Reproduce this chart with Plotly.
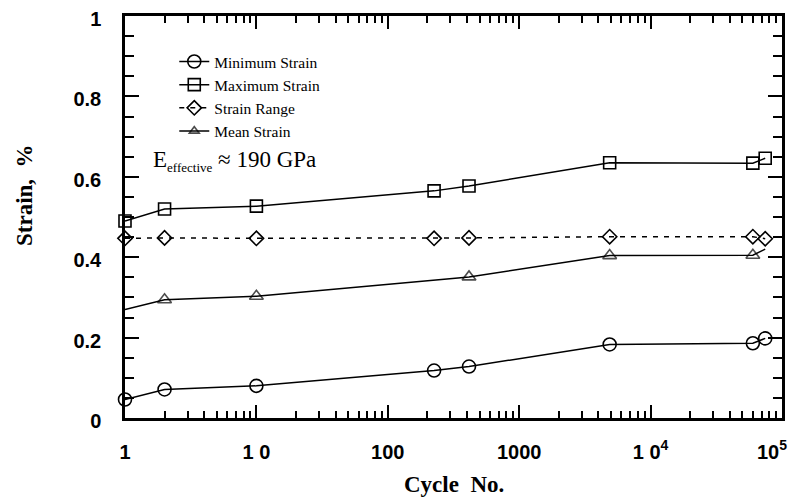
import plotly.graph_objects as go

cycles = [1, 2, 10, 225, 415, 4880, 60000, 74500]
min_strain = [0.046, 0.071, 0.080, 0.118, 0.128, 0.183, 0.186, 0.198]
max_strain = [0.490, 0.520, 0.527, 0.565, 0.577, 0.635, 0.634, 0.646]
range_strain = [0.447, 0.448, 0.447, 0.447, 0.448, 0.451, 0.451, 0.446]
mean_cycles = [1, 2, 10, 415, 4880, 60000, 74500]
mean_strain = [0.270, 0.294, 0.303, 0.351, 0.404, 0.405, 0.420]

x_tickvals = [1, 10, 100, 1000, 10000, 100000]
x_ticktext = ["1", "1 0", "100", "1000", "1 0<sup>4</sup>", "10<sup>5</sup>\u2003"]
x_minor = [m * d for d in [1, 10, 100, 1000, 10000] for m in range(2, 10)]
y_tickvals = [0, 0.2, 0.4, 0.6, 0.8, 1.0]
y_ticktext = ["0", "0.2", "0.4", "0.6", "0.8", "1"]
y_minor = [i * 0.05 for i in range(21)]

serif = "Liberation Serif, Times New Roman, serif"
sans = "Liberation Sans, Arial, sans-serif"

fig = go.Figure()
line = dict(color="black", width=1.5)
fig.add_trace(go.Scatter(x=cycles, y=min_strain, name="Minimum Strain", mode="lines+markers",
                         line=line, cliponaxis=False,
                         marker=dict(symbol="circle-open", size=13, color="black", line=dict(width=1.6))))
fig.add_trace(go.Scatter(x=cycles, y=max_strain, name="Maximum Strain", mode="lines+markers",
                         line=line, cliponaxis=False,
                         marker=dict(symbol="square-open", size=12, color="black", line=dict(width=1.6))))
fig.add_trace(go.Scatter(x=cycles, y=range_strain, name="Strain Range", mode="lines+markers",
                         line=dict(color="black", width=1.5, dash="5px,6px"), cliponaxis=False,
                         marker=dict(symbol="diamond-open", size=11, color="black", line=dict(width=1.6))))
fig.add_trace(go.Scatter(x=mean_cycles, y=mean_strain, name="Mean Strain", mode="lines+markers",
                         line=line, cliponaxis=False,
                         marker=dict(symbol="triangle-up-open", size=[0, 12, 12, 12, 12, 12, 0],
                                     color="black", line=dict(width=1.6))))
# invisible traces that bind the overlay tick axes
for ax in ["2", "3"]:
    fig.add_trace(go.Scatter(x=cycles, y=min_strain, mode="none", showlegend=False,
                             hoverinfo="skip", xaxis="x" + ax, yaxis="y" + ax))

tickfont = dict(family=sans, size=20, color="black", weight="bold")
common_x = dict(type="log", range=[0, 5], showgrid=False, zeroline=False, automargin=False)
common_y = dict(range=[0, 1], showgrid=False, zeroline=False, automargin=False)

fig.update_layout(
    template="none",
    width=791, height=489,
    margin=dict(l=117, r=17, t=8, b=79, autoexpand=False),
    paper_bgcolor="white", plot_bgcolor="white",
    showlegend=True,
    legend=dict(x=0.075, y=0.928, xanchor="left", yanchor="top",
                font=dict(family=serif, size=15.5, color="black"),
                bgcolor="rgba(0,0,0,0)", tracegroupgap=0),
    xaxis=dict(**common_x, tickvals=x_tickvals, ticktext=x_ticktext,
               ticks="outside", ticklen=14, tickwidth=1, tickcolor="rgba(0,0,0,0)",
               showline=True, linewidth=2.5, linecolor="black", mirror=True,
               tickfont=tickfont, ticklabeloverflow="allow"),
    xaxis2=dict(**common_x, overlaying="x", anchor="y2", tickvals=x_tickvals,
                ticks="inside", ticklen=13, tickwidth=2, tickcolor="black",
                mirror="ticks", showline=True, linecolor="black", showticklabels=False),
    xaxis3=dict(**common_x, overlaying="x", anchor="y3", tickvals=x_minor,
                ticks="inside", ticklen=7, tickwidth=1.5, tickcolor="black",
                mirror="ticks", showline=True, linecolor="black", showticklabels=False),
    yaxis=dict(**common_y, tickvals=y_tickvals, ticktext=y_ticktext,
               ticks="outside", ticklen=17, tickwidth=1, tickcolor="rgba(0,0,0,0)",
               showline=True, linewidth=2.5, linecolor="black", mirror=True,
               tickfont=tickfont, ticklabeloverflow="allow", ticklabelshift=3),
    yaxis2=dict(**common_y, overlaying="y", anchor="x2", tickvals=y_tickvals,
                ticks="inside", ticklen=14, tickwidth=2, tickcolor="black",
                mirror="ticks", showline=True, linecolor="black", showticklabels=False),
    yaxis3=dict(**common_y, overlaying="y", anchor="x3", tickvals=y_minor,
                ticks="inside", ticklen=9, tickwidth=2, tickcolor="black",
                mirror="ticks", showline=True, linecolor="black", showticklabels=False),
    annotations=[
        dict(text="<b>Cycle  No.</b>", xref="paper", yref="paper", x=0.5, y=-0.165,
             xanchor="center", yanchor="middle", showarrow=False,
             font=dict(family=serif, size=23, color="black")),
        dict(text="<b>Strain,  %</b>", xref="paper", yref="paper", x=-0.152, y=0.555,
             xanchor="center", yanchor="middle", textangle=-90, showarrow=False,
             font=dict(family=serif, size=23, color="black")),
        dict(text="E<sub><span style='font-size:13px'>effective</span></sub> ≈ 190 GPa",
             xref="paper", yref="paper", x=0.04, y=0.64,
             xanchor="left", yanchor="middle", showarrow=False,
             font=dict(family=serif, size=23, color="black")),
    ],
)

fig.write_html("out.html")
